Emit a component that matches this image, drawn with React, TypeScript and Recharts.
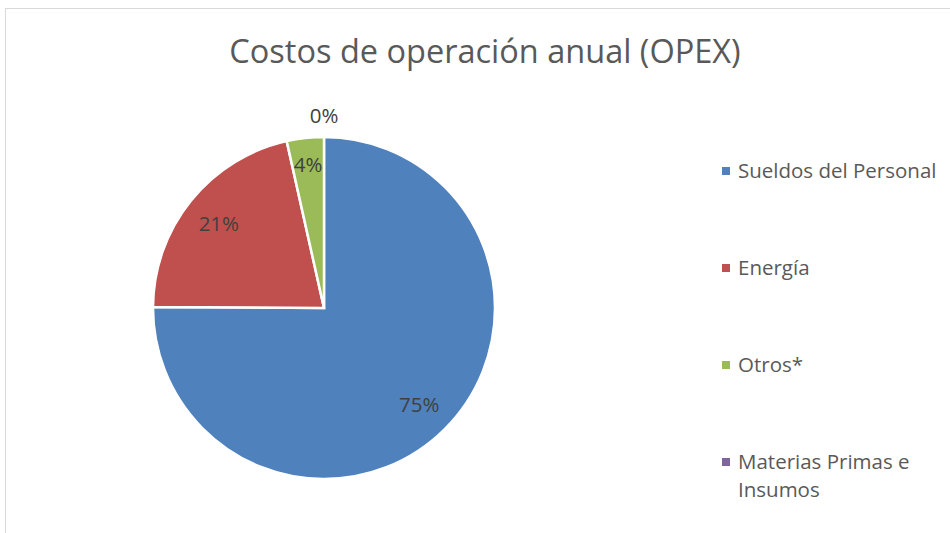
import { PieChart, Pie, Cell, Legend } from "recharts";

const categories = [
  "Sueldos del Personal",
  "Energía",
  "Otros*",
  "Materias Primas e Insumos",
];
const values = [75.1, 21.4, 3.5, 0.0];
const colors = ["#4F81BD", "#C0504D", "#9BBB59", "#8064A2"];

const data = categories.map((name, i) => ({
  name,
  value: values[i],
  color: colors[i],
}));

const total = values.reduce((s, v) => s + v, 0);
const RAD = Math.PI / 180;
const FONT = "'Open Sans', 'Noto Sans', sans-serif";

function renderLabel(props: any) {
  const { cx, cy, midAngle, outerRadius, value, index } = props;
  const pct = value / total;
  // tiny slices go outside, the rest sit inside near the rim
  const r =
    pct < 0.005 ? outerRadius + 22 : pct < 0.06 ? outerRadius * 0.85 : outerRadius * 0.79;
  const x = cx + r * Math.cos(-midAngle * RAD);
  const y = cy + r * Math.sin(-midAngle * RAD);
  return (
    <text
      key={`lbl-${index}`}
      x={x}
      y={y}
      fill="#404040"
      fontSize={20.5}
      fontFamily={FONT}
      textAnchor="middle"
      dominantBaseline="central"
    >
      {`${Math.round(pct * 100)}%`}
    </text>
  );
}

function LegendContent() {
  return (
    <div style={{ fontFamily: FONT, fontSize: 20.5, color: "#595959" }}>
      {data.map((d) => (
        <div
          key={d.name}
          style={{
            display: "flex",
            alignItems: "flex-start",
            height: 97,
            width: 225,
          }}
        >
          <span
            style={{
              display: "inline-block",
              width: 8,
              height: 8,
              background: d.color,
              marginTop: 11,
              marginRight: 8,
              flexShrink: 0,
            }}
          />
          <span style={{ lineHeight: "28px" }}>{d.name}</span>
        </div>
      ))}
    </div>
  );
}

export default function App() {
  return (
    <div
      style={{
        position: "absolute",
        left: 0,
        top: 0,
        width: 950,
        height: 533,
        overflow: "hidden",
        background: "#fff",
      }}
    >
      <div
        style={{
          position: "absolute",
          left: 5,
          top: 8,
          width: 960,
          height: 540,
          border: "1px solid #d9d9d9",
        }}
      />
      <div
        style={{
          position: "absolute",
          left: 0,
          top: 28,
          width: 970,
          textAlign: "center",
          fontFamily: FONT,
          fontSize: 32.5,
          color: "#595959",
        }}
      >
        Costos de operación anual (OPEX)
      </div>
      <PieChart
        width={950}
        height={533}
        margin={{ top: 0, right: 0, bottom: 0, left: 0 }}
        style={{ position: "absolute", left: 0, top: 0 }}
      >
        <Pie
          data={data}
          dataKey="value"
          nameKey="name"
          cx={324}
          cy={308}
          outerRadius={171}
          startAngle={90}
          endAngle={-270}
          stroke="#ffffff"
          strokeWidth={2.5}
          label={renderLabel}
          labelLine={false}
          isAnimationActive={false}
        >
          {data.map((entry, index) => (
            <Cell key={`cell-${index}`} fill={entry.color} />
          ))}
        </Pie>
        <Legend
          layout="vertical"
          content={<LegendContent />}
          wrapperStyle={{ left: 722, top: 156, width: 230 }}
        />
      </PieChart>
    </div>
  );
}
